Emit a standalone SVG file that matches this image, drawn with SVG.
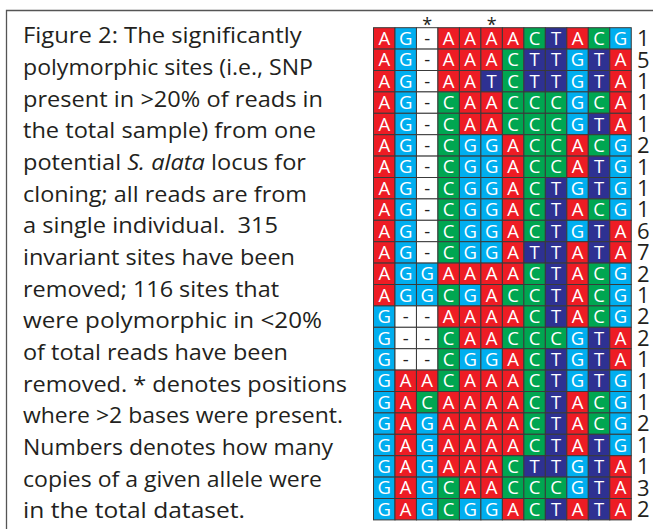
<svg xmlns="http://www.w3.org/2000/svg" width="653" height="529" viewBox="0 0 653 529">
<style>
.A{fill:#ED1C24}.G{fill:#00AEEF}.C{fill:#00A651}.T{fill:#2E3192}.N{fill:#FFFFFF}
.cell rect{stroke:#3a3a3a;stroke-width:1}
.b{font-family:"Open Sans","Noto Sans",sans-serif;font-size:18.5px;fill:#FFFFFF;text-anchor:middle}
.d{fill:#231F20}
.n{font-family:"Open Sans","Noto Sans",sans-serif;font-size:22px;fill:#231F20}
.ast{font-family:"Open Sans","Noto Sans",sans-serif;font-size:18px;fill:#231F20;text-anchor:middle}
.cap{font-family:"Open Sans","Noto Sans",sans-serif;font-size:21px;fill:#231F20;white-space:pre}
</style>
<path d="M6.5,529 V10.5 H653" fill="none" stroke="#555555" stroke-width="1.3"/>
<g id="caption">
<text class="cap" x="23" y="43.3" textLength="278.7" lengthAdjust="spacingAndGlyphs">Figure 2: The significantly</text>
<text class="cap" x="23" y="75" textLength="290" lengthAdjust="spacingAndGlyphs">polymorphic sites (i.e., SNP</text>
<text class="cap" x="23" y="106.6" textLength="300" lengthAdjust="spacingAndGlyphs">present in &gt;20% of reads in</text>
<text class="cap" x="23" y="138.3" textLength="293" lengthAdjust="spacingAndGlyphs">the total sample) from one</text>
<text class="cap" x="23" y="170" textLength="283" lengthAdjust="spacingAndGlyphs">potential <tspan font-style="italic">S. alata</tspan> locus for</text>
<text class="cap" x="23" y="201.7" textLength="284" lengthAdjust="spacingAndGlyphs">cloning; all reads are from</text>
<text class="cap" x="23" y="233.3" textLength="255" lengthAdjust="spacingAndGlyphs">a single individual.  315</text>
<text class="cap" x="23" y="265" textLength="272" lengthAdjust="spacingAndGlyphs">invariant sites have been</text>
<text class="cap" x="23" y="296.7" textLength="256" lengthAdjust="spacingAndGlyphs">removed; 116 sites that</text>
<text class="cap" x="23" y="328.3" textLength="299" lengthAdjust="spacingAndGlyphs">were polymorphic in &lt;20%</text>
<text class="cap" x="23" y="360" textLength="265" lengthAdjust="spacingAndGlyphs">of total reads have been</text>
<text class="cap" x="23" y="391.7" textLength="324" lengthAdjust="spacingAndGlyphs">removed. * denotes positions</text>
<text class="cap" x="23" y="423.3" textLength="320" lengthAdjust="spacingAndGlyphs">where &gt;2 bases were present.</text>
<text class="cap" x="23" y="455" textLength="310" lengthAdjust="spacingAndGlyphs">Numbers denotes how many</text>
<text class="cap" x="23" y="486.7" textLength="299" lengthAdjust="spacingAndGlyphs">copies of a given allele were</text>
<text class="cap" x="23" y="518.4" textLength="222" lengthAdjust="spacingAndGlyphs">in the total dataset.</text>
</g>
<g id="markers">
<text class="ast" x="427.2" y="31.2">*</text>
<text class="ast" x="491.64" y="31.2">*</text>
</g>
<g id="alignment">
<g id="row1" class="cell" transform="translate(0,27.7)">
<rect class="A" x="373.5" width="21.48" height="21.4"/><rect class="G" x="394.98" width="21.48" height="21.4"/><rect class="N" x="416.46" width="21.48" height="21.4"/><rect class="A" x="437.94" width="21.48" height="21.4"/><rect class="A" x="459.42" width="21.48" height="21.4"/><rect class="A" x="480.9" width="21.48" height="21.4"/><rect class="A" x="502.38" width="21.48" height="21.4"/><rect class="C" x="523.86" width="21.48" height="21.4"/><rect class="T" x="545.34" width="21.48" height="21.4"/><rect class="A" x="566.82" width="21.48" height="21.4"/><rect class="C" x="588.3" width="21.48" height="21.4"/><rect class="G" x="609.78" width="21.48" height="21.4"/>
<text class="b" y="17.3" x="384.24 405.72 427.2 448.68 470.16 491.64 513.12 534.6 556.08 577.56 599.04 620.52">AG<tspan class="d">-</tspan>AAAACTACG</text>
<text class="n" x="637" y="18.5">1</text>
</g>
<g id="row2" class="cell" transform="translate(0,49.1)">
<rect class="A" x="373.5" width="21.48" height="21.4"/><rect class="G" x="394.98" width="21.48" height="21.4"/><rect class="N" x="416.46" width="21.48" height="21.4"/><rect class="A" x="437.94" width="21.48" height="21.4"/><rect class="A" x="459.42" width="21.48" height="21.4"/><rect class="A" x="480.9" width="21.48" height="21.4"/><rect class="C" x="502.38" width="21.48" height="21.4"/><rect class="T" x="523.86" width="21.48" height="21.4"/><rect class="T" x="545.34" width="21.48" height="21.4"/><rect class="G" x="566.82" width="21.48" height="21.4"/><rect class="T" x="588.3" width="21.48" height="21.4"/><rect class="A" x="609.78" width="21.48" height="21.4"/>
<text class="b" y="17.3" x="384.24 405.72 427.2 448.68 470.16 491.64 513.12 534.6 556.08 577.56 599.04 620.52">AG<tspan class="d">-</tspan>AAACTTGTA</text>
<text class="n" x="637" y="18.5">5</text>
</g>
<g id="row3" class="cell" transform="translate(0,70.5)">
<rect class="A" x="373.5" width="21.48" height="21.4"/><rect class="G" x="394.98" width="21.48" height="21.4"/><rect class="N" x="416.46" width="21.48" height="21.4"/><rect class="A" x="437.94" width="21.48" height="21.4"/><rect class="A" x="459.42" width="21.48" height="21.4"/><rect class="T" x="480.9" width="21.48" height="21.4"/><rect class="C" x="502.38" width="21.48" height="21.4"/><rect class="T" x="523.86" width="21.48" height="21.4"/><rect class="T" x="545.34" width="21.48" height="21.4"/><rect class="G" x="566.82" width="21.48" height="21.4"/><rect class="T" x="588.3" width="21.48" height="21.4"/><rect class="A" x="609.78" width="21.48" height="21.4"/>
<text class="b" y="17.3" x="384.24 405.72 427.2 448.68 470.16 491.64 513.12 534.6 556.08 577.56 599.04 620.52">AG<tspan class="d">-</tspan>AATCTTGTA</text>
<text class="n" x="637" y="18.5">1</text>
</g>
<g id="row4" class="cell" transform="translate(0,91.9)">
<rect class="A" x="373.5" width="21.48" height="21.4"/><rect class="G" x="394.98" width="21.48" height="21.4"/><rect class="N" x="416.46" width="21.48" height="21.4"/><rect class="C" x="437.94" width="21.48" height="21.4"/><rect class="A" x="459.42" width="21.48" height="21.4"/><rect class="A" x="480.9" width="21.48" height="21.4"/><rect class="C" x="502.38" width="21.48" height="21.4"/><rect class="C" x="523.86" width="21.48" height="21.4"/><rect class="C" x="545.34" width="21.48" height="21.4"/><rect class="G" x="566.82" width="21.48" height="21.4"/><rect class="C" x="588.3" width="21.48" height="21.4"/><rect class="A" x="609.78" width="21.48" height="21.4"/>
<text class="b" y="17.3" x="384.24 405.72 427.2 448.68 470.16 491.64 513.12 534.6 556.08 577.56 599.04 620.52">AG<tspan class="d">-</tspan>CAACCCGCA</text>
<text class="n" x="637" y="18.5">1</text>
</g>
<g id="row5" class="cell" transform="translate(0,113.3)">
<rect class="A" x="373.5" width="21.48" height="21.4"/><rect class="G" x="394.98" width="21.48" height="21.4"/><rect class="N" x="416.46" width="21.48" height="21.4"/><rect class="C" x="437.94" width="21.48" height="21.4"/><rect class="A" x="459.42" width="21.48" height="21.4"/><rect class="A" x="480.9" width="21.48" height="21.4"/><rect class="C" x="502.38" width="21.48" height="21.4"/><rect class="C" x="523.86" width="21.48" height="21.4"/><rect class="C" x="545.34" width="21.48" height="21.4"/><rect class="G" x="566.82" width="21.48" height="21.4"/><rect class="T" x="588.3" width="21.48" height="21.4"/><rect class="A" x="609.78" width="21.48" height="21.4"/>
<text class="b" y="17.3" x="384.24 405.72 427.2 448.68 470.16 491.64 513.12 534.6 556.08 577.56 599.04 620.52">AG<tspan class="d">-</tspan>CAACCCGTA</text>
<text class="n" x="637" y="18.5">1</text>
</g>
<g id="row6" class="cell" transform="translate(0,134.7)">
<rect class="A" x="373.5" width="21.48" height="21.4"/><rect class="G" x="394.98" width="21.48" height="21.4"/><rect class="N" x="416.46" width="21.48" height="21.4"/><rect class="C" x="437.94" width="21.48" height="21.4"/><rect class="G" x="459.42" width="21.48" height="21.4"/><rect class="G" x="480.9" width="21.48" height="21.4"/><rect class="A" x="502.38" width="21.48" height="21.4"/><rect class="C" x="523.86" width="21.48" height="21.4"/><rect class="C" x="545.34" width="21.48" height="21.4"/><rect class="A" x="566.82" width="21.48" height="21.4"/><rect class="C" x="588.3" width="21.48" height="21.4"/><rect class="G" x="609.78" width="21.48" height="21.4"/>
<text class="b" y="17.3" x="384.24 405.72 427.2 448.68 470.16 491.64 513.12 534.6 556.08 577.56 599.04 620.52">AG<tspan class="d">-</tspan>CGGACCACG</text>
<text class="n" x="637" y="18.5">2</text>
</g>
<g id="row7" class="cell" transform="translate(0,156.1)">
<rect class="A" x="373.5" width="21.48" height="21.4"/><rect class="G" x="394.98" width="21.48" height="21.4"/><rect class="N" x="416.46" width="21.48" height="21.4"/><rect class="C" x="437.94" width="21.48" height="21.4"/><rect class="G" x="459.42" width="21.48" height="21.4"/><rect class="G" x="480.9" width="21.48" height="21.4"/><rect class="A" x="502.38" width="21.48" height="21.4"/><rect class="C" x="523.86" width="21.48" height="21.4"/><rect class="C" x="545.34" width="21.48" height="21.4"/><rect class="A" x="566.82" width="21.48" height="21.4"/><rect class="T" x="588.3" width="21.48" height="21.4"/><rect class="G" x="609.78" width="21.48" height="21.4"/>
<text class="b" y="17.3" x="384.24 405.72 427.2 448.68 470.16 491.64 513.12 534.6 556.08 577.56 599.04 620.52">AG<tspan class="d">-</tspan>CGGACCATG</text>
<text class="n" x="637" y="18.5">1</text>
</g>
<g id="row8" class="cell" transform="translate(0,177.5)">
<rect class="A" x="373.5" width="21.48" height="21.4"/><rect class="G" x="394.98" width="21.48" height="21.4"/><rect class="N" x="416.46" width="21.48" height="21.4"/><rect class="C" x="437.94" width="21.48" height="21.4"/><rect class="G" x="459.42" width="21.48" height="21.4"/><rect class="G" x="480.9" width="21.48" height="21.4"/><rect class="A" x="502.38" width="21.48" height="21.4"/><rect class="C" x="523.86" width="21.48" height="21.4"/><rect class="T" x="545.34" width="21.48" height="21.4"/><rect class="G" x="566.82" width="21.48" height="21.4"/><rect class="T" x="588.3" width="21.48" height="21.4"/><rect class="G" x="609.78" width="21.48" height="21.4"/>
<text class="b" y="17.3" x="384.24 405.72 427.2 448.68 470.16 491.64 513.12 534.6 556.08 577.56 599.04 620.52">AG<tspan class="d">-</tspan>CGGACTGTG</text>
<text class="n" x="637" y="18.5">1</text>
</g>
<g id="row9" class="cell" transform="translate(0,198.9)">
<rect class="A" x="373.5" width="21.48" height="21.4"/><rect class="G" x="394.98" width="21.48" height="21.4"/><rect class="N" x="416.46" width="21.48" height="21.4"/><rect class="C" x="437.94" width="21.48" height="21.4"/><rect class="G" x="459.42" width="21.48" height="21.4"/><rect class="G" x="480.9" width="21.48" height="21.4"/><rect class="A" x="502.38" width="21.48" height="21.4"/><rect class="C" x="523.86" width="21.48" height="21.4"/><rect class="T" x="545.34" width="21.48" height="21.4"/><rect class="A" x="566.82" width="21.48" height="21.4"/><rect class="C" x="588.3" width="21.48" height="21.4"/><rect class="G" x="609.78" width="21.48" height="21.4"/>
<text class="b" y="17.3" x="384.24 405.72 427.2 448.68 470.16 491.64 513.12 534.6 556.08 577.56 599.04 620.52">AG<tspan class="d">-</tspan>CGGACTACG</text>
<text class="n" x="637" y="18.5">1</text>
</g>
<g id="row10" class="cell" transform="translate(0,220.3)">
<rect class="A" x="373.5" width="21.48" height="21.4"/><rect class="G" x="394.98" width="21.48" height="21.4"/><rect class="N" x="416.46" width="21.48" height="21.4"/><rect class="C" x="437.94" width="21.48" height="21.4"/><rect class="G" x="459.42" width="21.48" height="21.4"/><rect class="G" x="480.9" width="21.48" height="21.4"/><rect class="A" x="502.38" width="21.48" height="21.4"/><rect class="C" x="523.86" width="21.48" height="21.4"/><rect class="T" x="545.34" width="21.48" height="21.4"/><rect class="G" x="566.82" width="21.48" height="21.4"/><rect class="T" x="588.3" width="21.48" height="21.4"/><rect class="A" x="609.78" width="21.48" height="21.4"/>
<text class="b" y="17.3" x="384.24 405.72 427.2 448.68 470.16 491.64 513.12 534.6 556.08 577.56 599.04 620.52">AG<tspan class="d">-</tspan>CGGACTGTA</text>
<text class="n" x="637" y="18.5">6</text>
</g>
<g id="row11" class="cell" transform="translate(0,241.7)">
<rect class="A" x="373.5" width="21.48" height="21.4"/><rect class="G" x="394.98" width="21.48" height="21.4"/><rect class="N" x="416.46" width="21.48" height="21.4"/><rect class="C" x="437.94" width="21.48" height="21.4"/><rect class="G" x="459.42" width="21.48" height="21.4"/><rect class="G" x="480.9" width="21.48" height="21.4"/><rect class="A" x="502.38" width="21.48" height="21.4"/><rect class="T" x="523.86" width="21.48" height="21.4"/><rect class="T" x="545.34" width="21.48" height="21.4"/><rect class="A" x="566.82" width="21.48" height="21.4"/><rect class="T" x="588.3" width="21.48" height="21.4"/><rect class="A" x="609.78" width="21.48" height="21.4"/>
<text class="b" y="17.3" x="384.24 405.72 427.2 448.68 470.16 491.64 513.12 534.6 556.08 577.56 599.04 620.52">AG<tspan class="d">-</tspan>CGGATTATA</text>
<text class="n" x="637" y="18.5">7</text>
</g>
<g id="row12" class="cell" transform="translate(0,263.1)">
<rect class="A" x="373.5" width="21.48" height="21.4"/><rect class="G" x="394.98" width="21.48" height="21.4"/><rect class="G" x="416.46" width="21.48" height="21.4"/><rect class="A" x="437.94" width="21.48" height="21.4"/><rect class="A" x="459.42" width="21.48" height="21.4"/><rect class="A" x="480.9" width="21.48" height="21.4"/><rect class="A" x="502.38" width="21.48" height="21.4"/><rect class="C" x="523.86" width="21.48" height="21.4"/><rect class="T" x="545.34" width="21.48" height="21.4"/><rect class="A" x="566.82" width="21.48" height="21.4"/><rect class="C" x="588.3" width="21.48" height="21.4"/><rect class="G" x="609.78" width="21.48" height="21.4"/>
<text class="b" y="17.3" x="384.24 405.72 427.2 448.68 470.16 491.64 513.12 534.6 556.08 577.56 599.04 620.52">AGGAAAACTACG</text>
<text class="n" x="637" y="18.5">2</text>
</g>
<g id="row13" class="cell" transform="translate(0,284.5)">
<rect class="A" x="373.5" width="21.48" height="21.4"/><rect class="G" x="394.98" width="21.48" height="21.4"/><rect class="G" x="416.46" width="21.48" height="21.4"/><rect class="C" x="437.94" width="21.48" height="21.4"/><rect class="G" x="459.42" width="21.48" height="21.4"/><rect class="A" x="480.9" width="21.48" height="21.4"/><rect class="C" x="502.38" width="21.48" height="21.4"/><rect class="C" x="523.86" width="21.48" height="21.4"/><rect class="T" x="545.34" width="21.48" height="21.4"/><rect class="A" x="566.82" width="21.48" height="21.4"/><rect class="C" x="588.3" width="21.48" height="21.4"/><rect class="G" x="609.78" width="21.48" height="21.4"/>
<text class="b" y="17.3" x="384.24 405.72 427.2 448.68 470.16 491.64 513.12 534.6 556.08 577.56 599.04 620.52">AGGCGACCTACG</text>
<text class="n" x="637" y="18.5">1</text>
</g>
<g id="row14" class="cell" transform="translate(0,305.9)">
<rect class="G" x="373.5" width="21.48" height="21.4"/><rect class="N" x="394.98" width="21.48" height="21.4"/><rect class="N" x="416.46" width="21.48" height="21.4"/><rect class="A" x="437.94" width="21.48" height="21.4"/><rect class="A" x="459.42" width="21.48" height="21.4"/><rect class="A" x="480.9" width="21.48" height="21.4"/><rect class="A" x="502.38" width="21.48" height="21.4"/><rect class="C" x="523.86" width="21.48" height="21.4"/><rect class="T" x="545.34" width="21.48" height="21.4"/><rect class="A" x="566.82" width="21.48" height="21.4"/><rect class="C" x="588.3" width="21.48" height="21.4"/><rect class="G" x="609.78" width="21.48" height="21.4"/>
<text class="b" y="17.3" x="384.24 405.72 427.2 448.68 470.16 491.64 513.12 534.6 556.08 577.56 599.04 620.52">G<tspan class="d">--</tspan>AAAACTACG</text>
<text class="n" x="637" y="18.5">2</text>
</g>
<g id="row15" class="cell" transform="translate(0,327.3)">
<rect class="G" x="373.5" width="21.48" height="21.4"/><rect class="N" x="394.98" width="21.48" height="21.4"/><rect class="N" x="416.46" width="21.48" height="21.4"/><rect class="C" x="437.94" width="21.48" height="21.4"/><rect class="A" x="459.42" width="21.48" height="21.4"/><rect class="A" x="480.9" width="21.48" height="21.4"/><rect class="C" x="502.38" width="21.48" height="21.4"/><rect class="C" x="523.86" width="21.48" height="21.4"/><rect class="C" x="545.34" width="21.48" height="21.4"/><rect class="G" x="566.82" width="21.48" height="21.4"/><rect class="T" x="588.3" width="21.48" height="21.4"/><rect class="A" x="609.78" width="21.48" height="21.4"/>
<text class="b" y="17.3" x="384.24 405.72 427.2 448.68 470.16 491.64 513.12 534.6 556.08 577.56 599.04 620.52">G<tspan class="d">--</tspan>CAACCCGTA</text>
<text class="n" x="637" y="18.5">2</text>
</g>
<g id="row16" class="cell" transform="translate(0,348.7)">
<rect class="G" x="373.5" width="21.48" height="21.4"/><rect class="N" x="394.98" width="21.48" height="21.4"/><rect class="N" x="416.46" width="21.48" height="21.4"/><rect class="C" x="437.94" width="21.48" height="21.4"/><rect class="G" x="459.42" width="21.48" height="21.4"/><rect class="G" x="480.9" width="21.48" height="21.4"/><rect class="A" x="502.38" width="21.48" height="21.4"/><rect class="C" x="523.86" width="21.48" height="21.4"/><rect class="T" x="545.34" width="21.48" height="21.4"/><rect class="G" x="566.82" width="21.48" height="21.4"/><rect class="T" x="588.3" width="21.48" height="21.4"/><rect class="A" x="609.78" width="21.48" height="21.4"/>
<text class="b" y="17.3" x="384.24 405.72 427.2 448.68 470.16 491.64 513.12 534.6 556.08 577.56 599.04 620.52">G<tspan class="d">--</tspan>CGGACTGTA</text>
<text class="n" x="637" y="18.5">1</text>
</g>
<g id="row17" class="cell" transform="translate(0,370.1)">
<rect class="G" x="373.5" width="21.48" height="21.4"/><rect class="A" x="394.98" width="21.48" height="21.4"/><rect class="A" x="416.46" width="21.48" height="21.4"/><rect class="C" x="437.94" width="21.48" height="21.4"/><rect class="A" x="459.42" width="21.48" height="21.4"/><rect class="A" x="480.9" width="21.48" height="21.4"/><rect class="A" x="502.38" width="21.48" height="21.4"/><rect class="C" x="523.86" width="21.48" height="21.4"/><rect class="T" x="545.34" width="21.48" height="21.4"/><rect class="G" x="566.82" width="21.48" height="21.4"/><rect class="T" x="588.3" width="21.48" height="21.4"/><rect class="G" x="609.78" width="21.48" height="21.4"/>
<text class="b" y="17.3" x="384.24 405.72 427.2 448.68 470.16 491.64 513.12 534.6 556.08 577.56 599.04 620.52">GAACAAACTGTG</text>
<text class="n" x="637" y="18.5">1</text>
</g>
<g id="row18" class="cell" transform="translate(0,391.5)">
<rect class="G" x="373.5" width="21.48" height="21.4"/><rect class="A" x="394.98" width="21.48" height="21.4"/><rect class="C" x="416.46" width="21.48" height="21.4"/><rect class="A" x="437.94" width="21.48" height="21.4"/><rect class="A" x="459.42" width="21.48" height="21.4"/><rect class="A" x="480.9" width="21.48" height="21.4"/><rect class="A" x="502.38" width="21.48" height="21.4"/><rect class="C" x="523.86" width="21.48" height="21.4"/><rect class="T" x="545.34" width="21.48" height="21.4"/><rect class="A" x="566.82" width="21.48" height="21.4"/><rect class="C" x="588.3" width="21.48" height="21.4"/><rect class="G" x="609.78" width="21.48" height="21.4"/>
<text class="b" y="17.3" x="384.24 405.72 427.2 448.68 470.16 491.64 513.12 534.6 556.08 577.56 599.04 620.52">GACAAAACTACG</text>
<text class="n" x="637" y="18.5">1</text>
</g>
<g id="row19" class="cell" transform="translate(0,412.9)">
<rect class="G" x="373.5" width="21.48" height="21.4"/><rect class="A" x="394.98" width="21.48" height="21.4"/><rect class="G" x="416.46" width="21.48" height="21.4"/><rect class="A" x="437.94" width="21.48" height="21.4"/><rect class="A" x="459.42" width="21.48" height="21.4"/><rect class="A" x="480.9" width="21.48" height="21.4"/><rect class="A" x="502.38" width="21.48" height="21.4"/><rect class="C" x="523.86" width="21.48" height="21.4"/><rect class="T" x="545.34" width="21.48" height="21.4"/><rect class="A" x="566.82" width="21.48" height="21.4"/><rect class="C" x="588.3" width="21.48" height="21.4"/><rect class="G" x="609.78" width="21.48" height="21.4"/>
<text class="b" y="17.3" x="384.24 405.72 427.2 448.68 470.16 491.64 513.12 534.6 556.08 577.56 599.04 620.52">GAGAAAACTACG</text>
<text class="n" x="637" y="18.5">2</text>
</g>
<g id="row20" class="cell" transform="translate(0,434.3)">
<rect class="G" x="373.5" width="21.48" height="21.4"/><rect class="A" x="394.98" width="21.48" height="21.4"/><rect class="G" x="416.46" width="21.48" height="21.4"/><rect class="A" x="437.94" width="21.48" height="21.4"/><rect class="A" x="459.42" width="21.48" height="21.4"/><rect class="A" x="480.9" width="21.48" height="21.4"/><rect class="A" x="502.38" width="21.48" height="21.4"/><rect class="C" x="523.86" width="21.48" height="21.4"/><rect class="T" x="545.34" width="21.48" height="21.4"/><rect class="A" x="566.82" width="21.48" height="21.4"/><rect class="T" x="588.3" width="21.48" height="21.4"/><rect class="G" x="609.78" width="21.48" height="21.4"/>
<text class="b" y="17.3" x="384.24 405.72 427.2 448.68 470.16 491.64 513.12 534.6 556.08 577.56 599.04 620.52">GAGAAAACTATG</text>
<text class="n" x="637" y="18.5">1</text>
</g>
<g id="row21" class="cell" transform="translate(0,455.7)">
<rect class="G" x="373.5" width="21.48" height="21.4"/><rect class="A" x="394.98" width="21.48" height="21.4"/><rect class="G" x="416.46" width="21.48" height="21.4"/><rect class="A" x="437.94" width="21.48" height="21.4"/><rect class="A" x="459.42" width="21.48" height="21.4"/><rect class="A" x="480.9" width="21.48" height="21.4"/><rect class="C" x="502.38" width="21.48" height="21.4"/><rect class="T" x="523.86" width="21.48" height="21.4"/><rect class="T" x="545.34" width="21.48" height="21.4"/><rect class="G" x="566.82" width="21.48" height="21.4"/><rect class="T" x="588.3" width="21.48" height="21.4"/><rect class="A" x="609.78" width="21.48" height="21.4"/>
<text class="b" y="17.3" x="384.24 405.72 427.2 448.68 470.16 491.64 513.12 534.6 556.08 577.56 599.04 620.52">GAGAAACTTGTA</text>
<text class="n" x="637" y="18.5">1</text>
</g>
<g id="row22" class="cell" transform="translate(0,477.1)">
<rect class="G" x="373.5" width="21.48" height="21.4"/><rect class="A" x="394.98" width="21.48" height="21.4"/><rect class="G" x="416.46" width="21.48" height="21.4"/><rect class="C" x="437.94" width="21.48" height="21.4"/><rect class="A" x="459.42" width="21.48" height="21.4"/><rect class="A" x="480.9" width="21.48" height="21.4"/><rect class="C" x="502.38" width="21.48" height="21.4"/><rect class="C" x="523.86" width="21.48" height="21.4"/><rect class="C" x="545.34" width="21.48" height="21.4"/><rect class="G" x="566.82" width="21.48" height="21.4"/><rect class="T" x="588.3" width="21.48" height="21.4"/><rect class="A" x="609.78" width="21.48" height="21.4"/>
<text class="b" y="17.3" x="384.24 405.72 427.2 448.68 470.16 491.64 513.12 534.6 556.08 577.56 599.04 620.52">GAGCAACCCGTA</text>
<text class="n" x="637" y="18.5">3</text>
</g>
<g id="row23" class="cell" transform="translate(0,498.5)">
<rect class="G" x="373.5" width="21.48" height="21.4"/><rect class="A" x="394.98" width="21.48" height="21.4"/><rect class="G" x="416.46" width="21.48" height="21.4"/><rect class="C" x="437.94" width="21.48" height="21.4"/><rect class="G" x="459.42" width="21.48" height="21.4"/><rect class="G" x="480.9" width="21.48" height="21.4"/><rect class="A" x="502.38" width="21.48" height="21.4"/><rect class="C" x="523.86" width="21.48" height="21.4"/><rect class="T" x="545.34" width="21.48" height="21.4"/><rect class="A" x="566.82" width="21.48" height="21.4"/><rect class="T" x="588.3" width="21.48" height="21.4"/><rect class="A" x="609.78" width="21.48" height="21.4"/>
<text class="b" y="17.3" x="384.24 405.72 427.2 448.68 470.16 491.64 513.12 534.6 556.08 577.56 599.04 620.52">GAGCGGACTATA</text>
<text class="n" x="637" y="18.5">2</text>
</g>
</g>
</svg>
